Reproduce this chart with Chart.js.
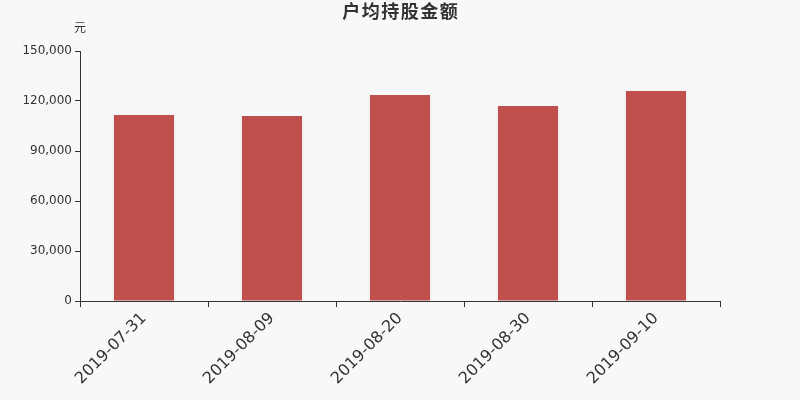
<!DOCTYPE html>
<html>
<head>
<meta charset="utf-8">
<script src="https://cdn.jsdelivr.net/npm/chart.js@4/dist/chart.umd.min.js"></script>
<style>
html,body{margin:0;padding:0;background:#f8f8f8;}
#wrap{width:800px;height:400px;}
</style>
</head>
<body>
<div id="wrap"><canvas id="c" width="800" height="400"></canvas></div>
<script>
const categories = ["2019-07-31", "2019-08-09", "2019-08-20", "2019-08-30", "2019-09-10"];
const values = [111600, 111000, 123600, 117000, 126000];
const titleText = "户均持股金额";
const unitText = "元";

const FONT = '"DejaVu Sans", "Noto Sans CJK SC", sans-serif';

const textPlugin = {
  id: 'texts',
  beforeDraw(chart) {
    const ctx = chart.ctx;
    ctx.save();
    ctx.fillStyle = '#f8f8f8';
    ctx.fillRect(0, 0, chart.width, chart.height);
    ctx.restore();
  },
  afterDraw(chart) {
    const ctx = chart.ctx;
    ctx.save();
    ctx.fillStyle = '#333';
    ctx.textAlign = 'center';
    ctx.textBaseline = 'middle';
    ctx.font = 'bold 18px ' + FONT;
    try { ctx.letterSpacing = '1.5px'; } catch (e) {}
    ctx.fillText(titleText, 400.75, 13);
    try { ctx.letterSpacing = '0px'; } catch (e) {}
    ctx.font = '12px ' + FONT;
    ctx.fillText(unitText, 80, 29);
    ctx.restore();
  }
};

new Chart(document.getElementById('c'), {
  type: 'bar',
  data: {
    labels: categories,
    datasets: [{
      data: values,
      backgroundColor: '#c0504d',
      barPercentage: 0.47,
      categoryPercentage: 1.0
    }]
  },
  options: {
    responsive: false,
    animation: false,
    layout: { padding: { top: 51, right: 80, left: 0, bottom: 0 } },
    plugins: { legend: { display: false }, title: { display: false }, tooltip: { enabled: false } },
    scales: {
      x: {
        afterFit(s) { s.height = 99; },
        grid: { display: true, drawOnChartArea: false, offset: true, color: '#333', tickLength: 6, lineWidth: 1 },
        border: { display: true, color: '#333', width: 1 },
        ticks: { color: '#333', font: { size: 16, family: FONT }, maxRotation: 45, minRotation: 45, padding: 2, autoSkip: false }
      },
      y: {
        min: 0, max: 150000,
        afterFit(s) { s.width = 80; },
        grid: { display: true, drawOnChartArea: false, color: '#333', tickLength: 5 },
        border: { display: true, color: '#333', width: 1 },
        ticks: { stepSize: 30000, color: '#333', font: { size: 12, family: FONT }, padding: 3,
          callback: v => v.toLocaleString('en-US') }
      }
    }
  },
  plugins: [textPlugin]
});
</script>
</body>
</html>
